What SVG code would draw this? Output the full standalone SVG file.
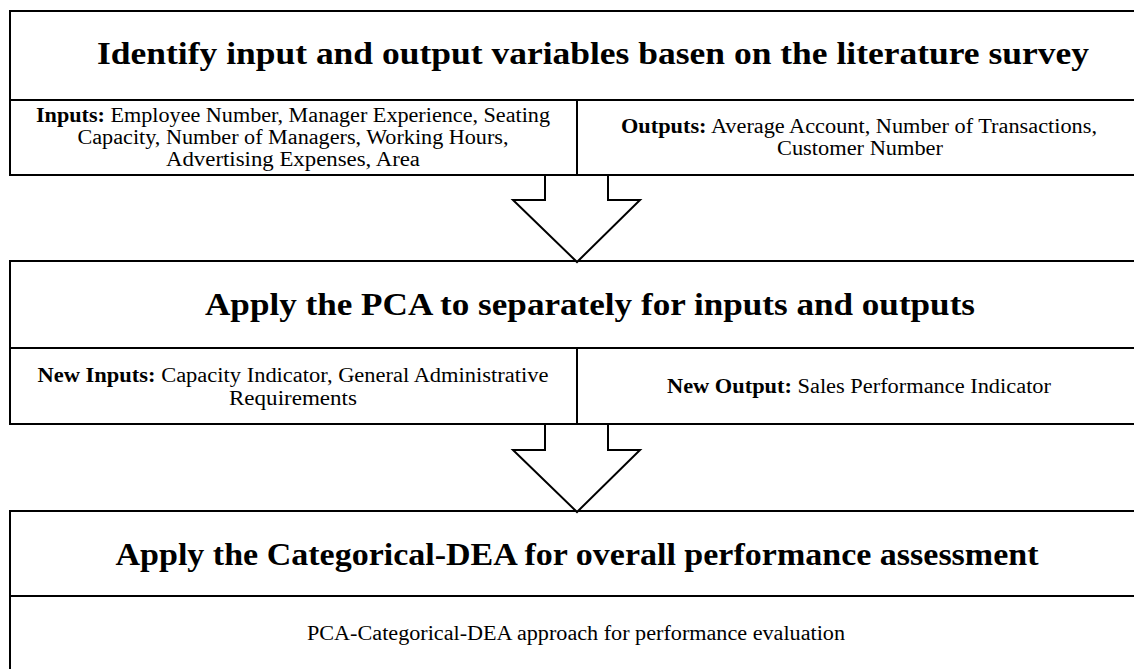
<svg xmlns="http://www.w3.org/2000/svg" width="1134" height="669" viewBox="0 0 1134 669">
<style>
.box{fill:#fff;stroke:#000;stroke-width:2}
.ln{stroke:#000;stroke-width:2;fill:none}
.arrow{fill:#fff;stroke:#000;stroke-width:2;stroke-linejoin:miter}
.title{font-family:"Liberation Serif",serif;font-weight:bold;font-size:31px;fill:#000;text-anchor:middle}
.body{font-family:"Liberation Serif",serif;font-size:20px;fill:#000;text-anchor:middle}
.b{font-weight:bold}
</style>
<rect width="1134" height="669" fill="#fff"/>
<g id="step1">
<rect class="box" x="10" y="11" width="1140" height="164"/>
<line class="ln" x1="10" y1="100" x2="1150" y2="100"/>
<line class="ln" x1="577" y1="100" x2="577" y2="175"/>
<text class="title" x="593" y="64" textLength="992" lengthAdjust="spacingAndGlyphs">Identify input and output variables basen on the literature survey</text>
<text class="body" x="293" y="122" textLength="514" lengthAdjust="spacingAndGlyphs"><tspan class="b">Inputs:</tspan> Employee Number, Manager Experience, Seating</text>
<text class="body" x="293" y="144" textLength="431" lengthAdjust="spacingAndGlyphs">Capacity, Number of Managers, Working Hours,</text>
<text class="body" x="293" y="166" textLength="254" lengthAdjust="spacingAndGlyphs">Advertising Expenses, Area</text>
<text class="body" x="859" y="133" textLength="476" lengthAdjust="spacingAndGlyphs"><tspan class="b">Outputs:</tspan> Average Account, Number of Transactions,</text>
<text class="body" x="860" y="155" textLength="166" lengthAdjust="spacingAndGlyphs">Customer Number</text>
</g>
<g id="step2">
<rect class="box" x="10" y="261" width="1140" height="163"/>
<line class="ln" x1="10" y1="348" x2="1150" y2="348"/>
<line class="ln" x1="577" y1="348" x2="577" y2="424"/>
<text class="title" x="590" y="315" textLength="770" lengthAdjust="spacingAndGlyphs">Apply the PCA to separately for inputs and outputs</text>
<text class="body" x="293" y="382" textLength="511" lengthAdjust="spacingAndGlyphs"><tspan class="b">New Inputs:</tspan> Capacity Indicator, General Administrative</text>
<text class="body" x="293" y="405" textLength="128" lengthAdjust="spacingAndGlyphs">Requirements</text>
<text class="body" x="859" y="393" textLength="384" lengthAdjust="spacingAndGlyphs"><tspan class="b">New Output:</tspan> Sales Performance Indicator</text>
</g>
<g id="step3">
<rect class="box" x="10" y="511" width="1140" height="200"/>
<line class="ln" x1="10" y1="596" x2="1150" y2="596"/>
<text class="title" x="577" y="565" textLength="923" lengthAdjust="spacingAndGlyphs">Apply the Categorical-DEA for overall performance assessment</text>
<text class="body" x="576" y="640" textLength="538" lengthAdjust="spacingAndGlyphs">PCA-Categorical-DEA approach for performance evaluation</text>
</g>
<g id="connectors">
<polygon class="arrow" points="545,175 608,175 608,200 640,200 577,262 513,200 545,200"/>
<polygon class="arrow" points="545,424 608,424 608,450 640,450 577,512 513,450 545,450"/>
</g>
</svg>
